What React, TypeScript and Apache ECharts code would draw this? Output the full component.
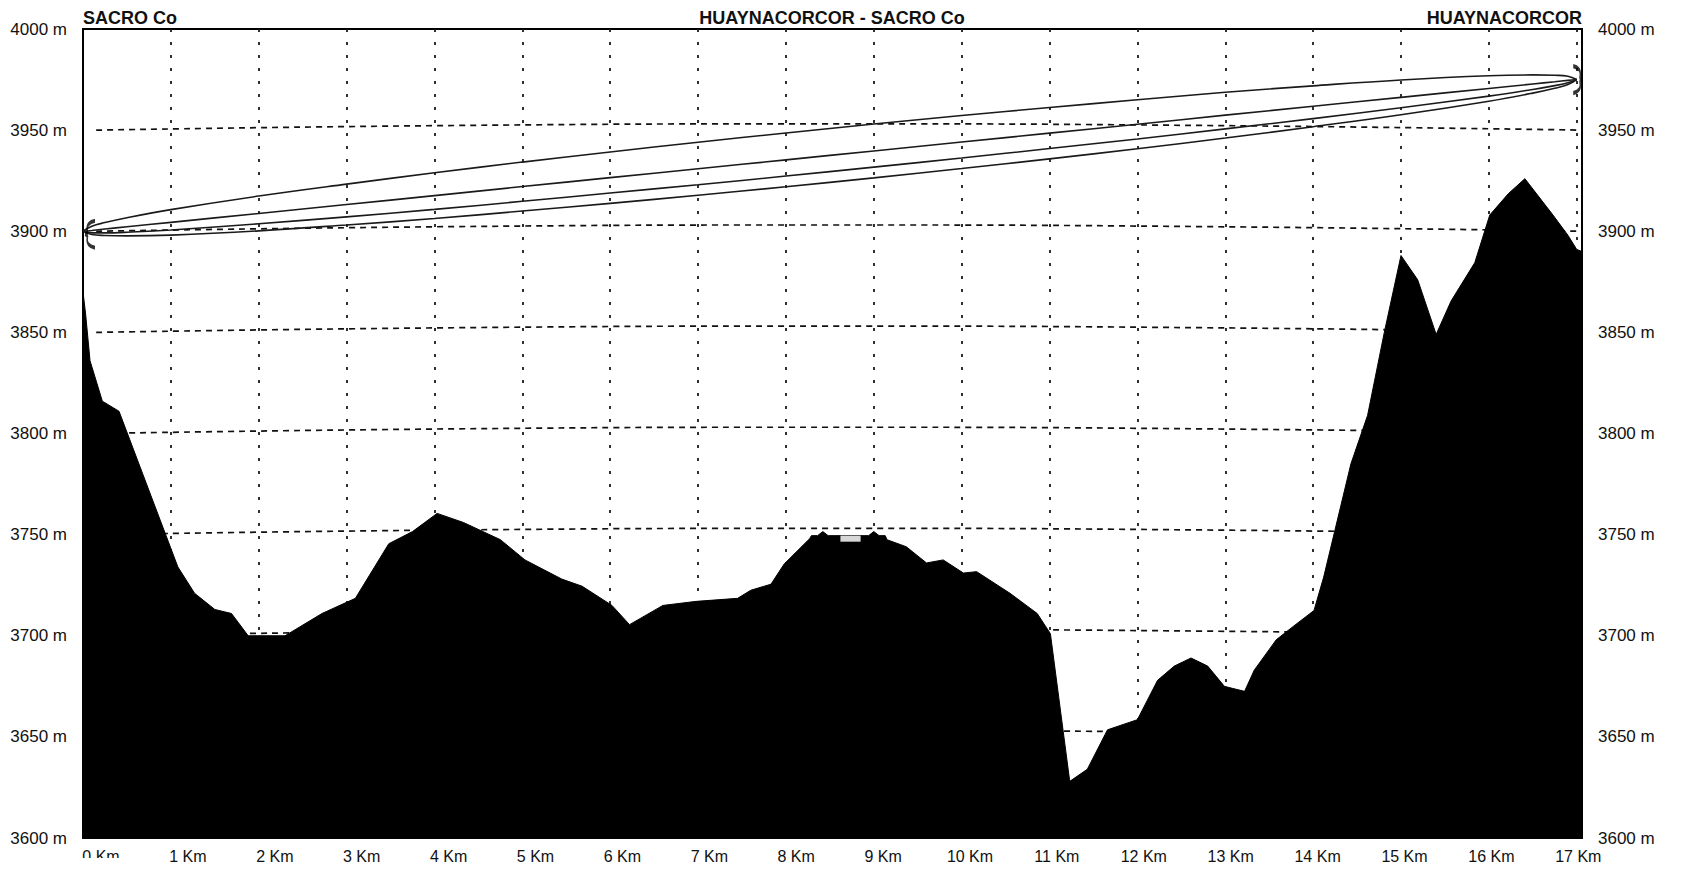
import React, { useEffect, useRef } from "react";
import * as echarts from "echarts";

// ---- data ----
const kmTicks = [0, 1, 2, 3, 4, 5, 6, 7, 8, 9, 10, 11, 12, 13, 14, 15, 16, 17];
const kmTickLabels = kmTicks.map((k) => `${k} Km`);

const terrainKm = [
  0, 0.03, 0.08, 0.22, 0.41, 1.08, 1.27, 1.5, 1.69, 1.88, 2.3, 2.72, 3.1, 3.48, 3.75,
  4.03, 4.33, 4.75, 5.03, 5.45, 5.68, 6.02, 6.22, 6.6, 6.98, 7.45, 7.6, 7.83, 7.98, 8.27,
  8.29, 8.36, 8.42, 8.48, 8.94, 9.0, 9.06, 9.13, 9.15, 9.37, 9.6, 9.79, 10.02, 10.17, 10.55,
  10.86, 11.01, 11.23, 11.43, 11.66, 12.0, 12.23, 12.42, 12.61, 12.8, 12.99, 13.08, 13.22, 13.33, 13.58,
  13.77, 14.01, 14.12, 14.43, 14.62, 14.81, 15.0, 15.19, 15.4, 15.57, 15.84, 16.01, 16.22, 16.41, 16.73,
  16.9, 17.0, 17.06,
];
const terrainAlt = [
  3870, 3859, 3836, 3816, 3811, 3734, 3721, 3713, 3711, 3700, 3700, 3711, 3718.5, 3745.5, 3751.5,
  3760.5, 3756, 3747.5, 3737.5, 3728, 3724.5, 3715, 3705.5, 3715, 3717, 3718.5, 3722.5, 3725.5, 3735.5, 3748,
  3749.5, 3749.5, 3751.5, 3749.5, 3749.5, 3751.5, 3749.5, 3749.5, 3747.5, 3744, 3736, 3737.5, 3731, 3731.7, 3721,
  3711, 3701, 3628, 3634, 3653.5, 3658.5, 3678, 3685, 3689, 3685, 3675, 3674, 3672.5, 3683, 3698,
  3704.5, 3712.5, 3729, 3785, 3809, 3850, 3888, 3876, 3849, 3865.5, 3884.5, 3908, 3918.5, 3926, 3908,
  3898, 3891, 3890,
];

const linkKm = [0, 0.1, 0.25, 0.5, 1, 2, 3, 4, 5, 6, 7, 8, 9, 10, 11, 12, 13, 14, 15, 16, 16.5, 16.75, 16.9, 17];
const fresnelTop = [
  3900, 3902.5, 3904.3, 3906.7, 3910.7, 3917.4, 3923.3, 3928.9, 3934.2, 3939.2, 3944.0, 3948.6,
  3953.0, 3957.2, 3961.2, 3965.0, 3968.7, 3971.9, 3974.8, 3976.9, 3977.3, 3977.1, 3976.6, 3975,
];
const lineOfSight = [
  3900, 3900.4, 3901.1, 3902.2, 3904.4, 3908.8, 3913.2, 3917.6, 3922.1, 3926.5, 3930.9, 3935.3,
  3939.7, 3944.1, 3948.5, 3952.9, 3957.4, 3961.8, 3966.2, 3970.6, 3972.8, 3973.9, 3974.6, 3975,
];
const fresnel60Low = [
  3900, 3899.2, 3899.2, 3899.5, 3900.6, 3903.7, 3907.1, 3910.8, 3914.8, 3918.9, 3923.0, 3927.3,
  3931.7, 3936.2, 3940.9, 3945.6, 3950.6, 3955.7, 3961.1, 3966.8, 3970.1, 3972.0, 3973.4, 3975,
];
const fresnelBottom = [
  3900, 3898.4, 3897.9, 3897.7, 3898.1, 3900.2, 3903.1, 3906.3, 3910.0, 3913.8, 3917.8, 3922.0,
  3926.4, 3931.0, 3935.8, 3940.8, 3946.1, 3951.7, 3957.6, 3964.3, 3968.3, 3970.7, 3972.5, 3975,
];

// curved (earth-curvature) altitude reference lines
const gridLevels = [3650, 3700, 3750, 3800, 3850, 3900, 3950];
const gridCurveKm = [0.15, 4.25, 8.5, 12.75, 17.06];
const gridCurveLift = [0, 2.3, 3.1, 2.3, 0];

const siteA = { name: "SACRO Co", km: 0, alt: 3900 };
const siteB = { name: "HUAYNACORCOR", km: 17, alt: 3975 };
const linkTitle = "HUAYNACORCOR - SACRO Co";

// grey window on the terrain near 8.6-8.9 km
const notchKm = [8.62, 8.85];
const notchAlt = [3746.5, 3749.5];

const FONT = "'Liberation Sans', Arial, Helvetica, sans-serif";

export default function App() {
  const ref = useRef<HTMLDivElement>(null);

  useEffect(() => {
    document.body.style.margin = "0";
    const chart = echarts.init(ref.current!, null, { renderer: "svg" });

    const pair = (xs: number[], ys: number[]) => xs.map((x, i) => [x, ys[i]]);
    const linkLine = (name: string, ys: number[]) => ({
      name,
      type: "line",
      data: pair(linkKm, ys),
      smooth: 0.4,
      showSymbol: false,
      lineStyle: { color: "#1a1a1a", width: 1.6 },
      z: 4,
      silent: true,
    });

    const gridSeries = gridLevels.map((lvl) => ({
      name: `grid ${lvl}`,
      type: "line",
      data: gridCurveKm.map((k, i) => [k, lvl + gridCurveLift[i]]),
      smooth: true,
      showSymbol: false,
      lineStyle: { color: "#111", width: 1.7, type: [6, 5] },
      z: 1,
      silent: true,
    }));

    const leftBrace = "path://M9,0 Q1,2 2,11 Q3,14 0,15 Q3,16 2,19 Q1,28 9,30";
    const rightBrace = "path://M0,0 Q8,2 7,11 Q6,14 9,15 Q6,16 7,19 Q8,28 0,30";

    const xLabelGraphics: any[] = kmTickLabels.map((t, i) => ({
      type: "text",
      x: 101 + 86.9 * kmTicks[i],
      y: 856,
      style: {
        text: t,
        fill: "#111",
        font: `16px ${FONT}`,
        textAlign: "center",
        textVerticalAlign: "middle",
      },
      z: 10,
    }));

    const yLabel = (v: number) => `${v} m`;

    const option: any = {
      animation: false,
      backgroundColor: "#ffffff",
      grid: {
        left: 83,
        top: 29,
        width: 1499,
        height: 809,
        show: true,
        borderColor: "#000",
        borderWidth: 2,
        backgroundColor: "transparent",
      },
      xAxis: {
        type: "value",
        min: 0,
        max: 17.06,
        interval: 1,
        axisLine: { show: false },
        axisTick: { show: false },
        axisLabel: { show: false },
        splitLine: {
          show: true,
          lineStyle: { color: "#1a1a1a", width: 1.8, type: [3, 10] },
        },
      },
      yAxis: [
        {
          type: "value",
          position: "left",
          min: 3600,
          max: 4000,
          interval: 50,
          axisLine: { show: true, lineStyle: { color: "#000", width: 2 } },
          axisTick: { show: false },
          axisLabel: {
            formatter: yLabel,
            fontSize: 17,
            fontFamily: FONT,
            color: "#111",
            margin: 16,
          },
          splitLine: { show: false },
        },
        {
          type: "value",
          position: "right",
          min: 3600,
          max: 4000,
          interval: 50,
          axisLine: { show: true, lineStyle: { color: "#000", width: 2 } },
          axisTick: { show: false },
          axisLabel: {
            formatter: yLabel,
            fontSize: 17,
            fontFamily: FONT,
            color: "#111",
            margin: 16,
          },
          splitLine: { show: false },
        },
      ],
      series: [
        ...gridSeries,
        {
          name: "terrain",
          type: "line",
          data: pair(terrainKm, terrainAlt),
          showSymbol: false,
          lineStyle: { color: "#000", width: 1 },
          areaStyle: { color: "#000", opacity: 1, origin: "start" },
          z: 2,
          silent: true,
          markArea: {
            silent: true,
            z: 5,
            itemStyle: { color: "#d6d6d6", borderWidth: 0 },
            data: [[{ coord: [notchKm[0], notchAlt[0]] }, { coord: [notchKm[1], notchAlt[1]] }]],
          },
        },
        linkLine("fresnel top", fresnelTop),
        linkLine("line of sight", lineOfSight),
        linkLine("60% fresnel", fresnel60Low),
        linkLine("fresnel bottom", fresnelBottom),
        {
          name: "antenna A",
          type: "scatter",
          data: [[siteA.km, siteA.alt]],
          symbol: leftBrace,
          symbolSize: [10, 27],
          symbolOffset: [7, 3],
          itemStyle: { color: "rgba(0,0,0,0)", borderColor: "#000", borderWidth: 2.4 },
          z: 6,
          silent: true,
        },
        {
          name: "antenna B",
          type: "scatter",
          data: [[siteB.km, siteB.alt]],
          symbol: rightBrace,
          symbolSize: [9, 27],
          symbolOffset: [1, 0],
          itemStyle: { color: "rgba(0,0,0,0)", borderColor: "#000", borderWidth: 2.4 },
          z: 6,
          silent: true,
        },
      ],
      graphic: [
        {
          type: "text",
          x: 83,
          y: 18,
          style: {
            text: siteA.name,
            fill: "#111",
            font: `bold 18px ${FONT}`,
            textAlign: "left",
            textVerticalAlign: "middle",
          },
        },
        {
          type: "text",
          x: 832,
          y: 18,
          style: {
            text: linkTitle,
            fill: "#111",
            font: `bold 18px ${FONT}`,
            textAlign: "center",
            textVerticalAlign: "middle",
          },
        },
        {
          type: "text",
          x: 1582,
          y: 18,
          style: {
            text: siteB.name,
            fill: "#111",
            font: `bold 18px ${FONT}`,
            textAlign: "right",
            textVerticalAlign: "middle",
          },
        },
        ...xLabelGraphics,
        {
          type: "rect",
          shape: { x: 78, y: 858, width: 48, height: 12 },
          style: { fill: "#ffffff" },
          z: 11,
        },
      ],
    };

    chart.setOption(option);
    return () => chart.dispose();
  }, []);

  return (
    <div
      ref={ref}
      style={{ position: "fixed", left: 0, top: 0, width: 1685, height: 873, background: "#fff" }}
    />
  );
}
